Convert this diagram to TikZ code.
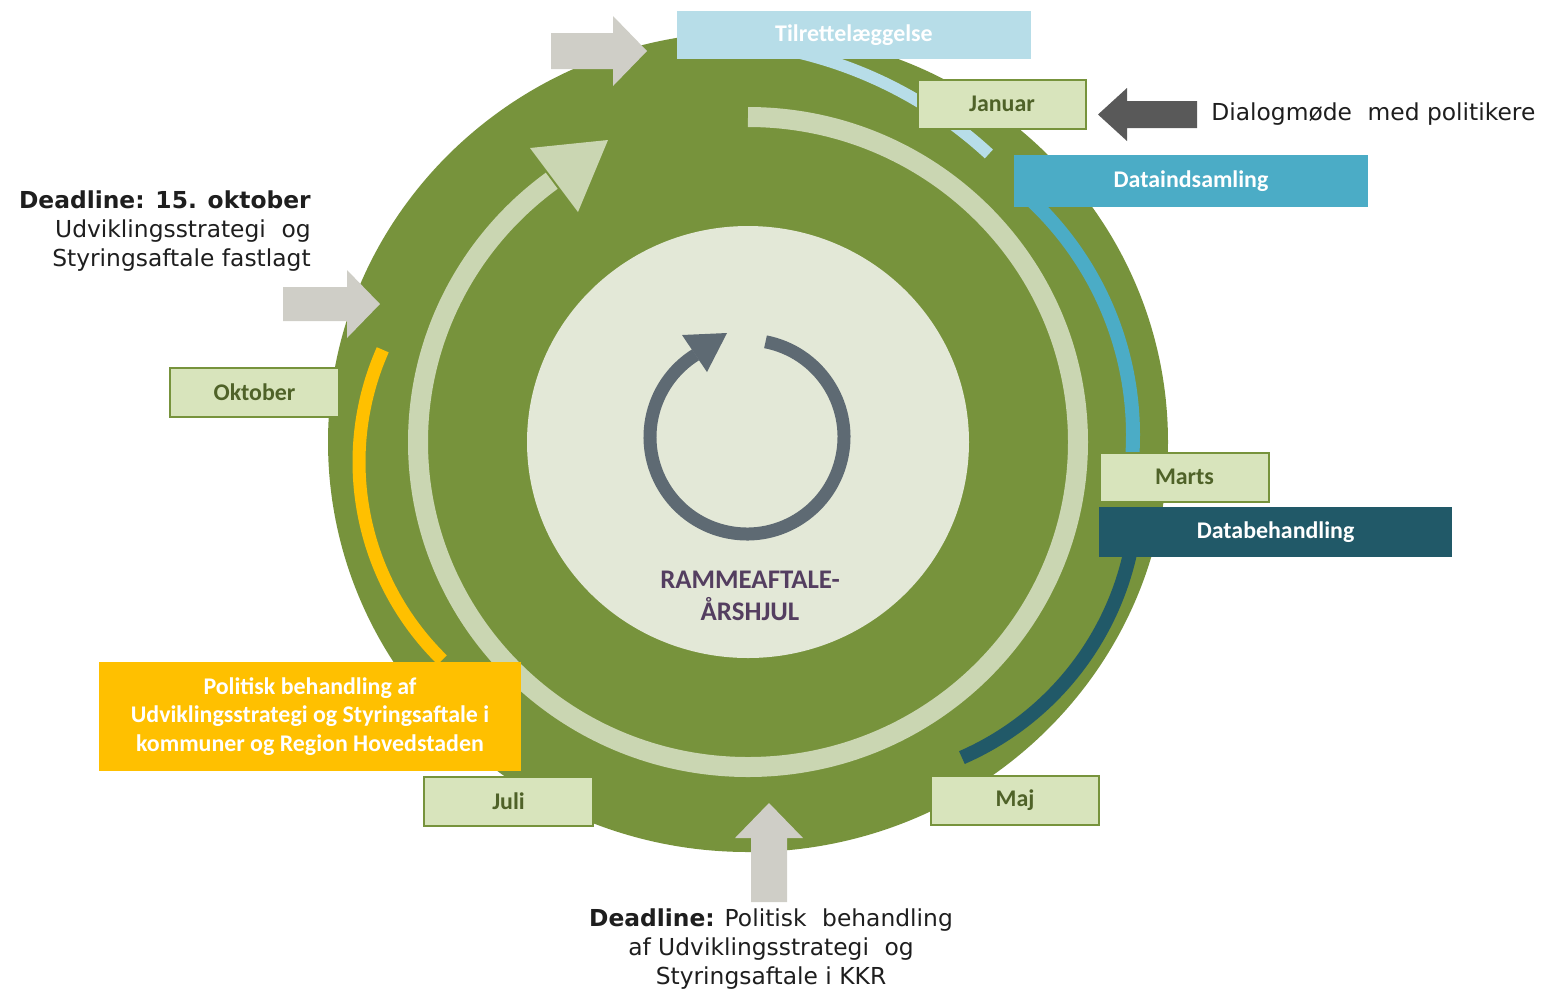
\documentclass[tikz,border=0pt]{standalone}
\usepackage{fontspec}
\setmainfont{DejaVu Sans}
\newfontfamily\lblfont{Carlito}
\definecolor{wheel}{HTML}{77933C}
\definecolor{ringc}{RGB}{202,214,178}
\definecolor{innerc}{RGB}{227,232,215}
\definecolor{iconc}{RGB}{94,106,115}
\definecolor{titlec}{RGB}{84,62,96}
\definecolor{grayarr}{RGB}{207,206,199}
\definecolor{darkarr}{HTML}{595959}
\definecolor{lblue}{HTML}{B7DDE8}
\definecolor{mblue}{HTML}{4BACC6}
\definecolor{dteal}{HTML}{215968}
\definecolor{yel}{HTML}{FFC000}
\definecolor{monthfill}{HTML}{D8E4BC}
\definecolor{monthborder}{HTML}{77933C}
\definecolor{monthtext}{HTML}{4F6228}
\definecolor{bodytext}{HTML}{1E1E1E}
\newcommand{\wsp}{\hspace{0.35em}}
\tikzset{
  monthbox/.style={draw=monthborder, line width=0.04cm, fill=monthfill,
    minimum width=3.38cm, minimum height=0.98cm, inner sep=0pt,
    text=monthtext, font=\lblfont\bfseries\fontsize{13.6}{16}\selectfont},
  phasebox/.style={minimum width=7.08cm, inner sep=0pt, text=white,
    font=\lblfont\bfseries\fontsize{13.6}{16}\selectfont},
  bodytxt/.style={inner sep=0pt, text=bodytext, font=\fontsize{13.3}{16.7}\selectfont},
  arcline/.style={line cap=butt},
}
\begin{document}
\begin{tikzpicture}[x=0.02cm,y=0.02cm]
\useasboundingbox (0,0) rectangle (1549,-992);
% wheel
\fill[wheel] (748,-442) ellipse [x radius=420, y radius=410];
% ring with arrow
\draw[ringc, line width=0.4cm, arcline] (748,-442) ++(90:330 and 325)
  arc[start angle=90, end angle=-233.5, x radius=330, y radius=325];
\fill[ringc] (608,-140) -- (530,-148) -- (578,-212) -- cycle;
% inner disc
\fill[innerc] (748,-442) ellipse [x radius=221, y radius=216];
% cycle icon
\draw[iconc, line width=0.26cm, arcline] (747,-437) ++(79:97)
  arc[start angle=79, end angle=-238, radius=97];
\fill[iconc] (727,-333) -- (682,-335) -- (707,-372) -- cycle;
\node[inner sep=0pt, text=titlec, align=center,
  font=\lblfont\bfseries\fontsize{15.3}{18.2}\selectfont] (title) at (750,-596)
  {RAMMEAFTALE-\\ÅRSHJUL};
% phase arcs
\draw[lblue, line width=0.24cm, arcline] (700,-467) ++(88:426)
  arc[start angle=88, end angle=47.3, radius=426];
\draw[mblue, line width=0.28cm, arcline] (811,-435) ++(49:322)
  arc[start angle=49, end angle=-4, radius=322];
\draw[dteal, line width=0.28cm, arcline] (845,-490) ++(-8:292)
  arc[start angle=-8, end angle=-66.4, radius=292];
\draw[yel, line width=0.26cm, arcline] (636,-462) ++(156.1:277)
  arc[start angle=156.1, end angle=225.6, radius=277];
% phase boxes
\node[phasebox, fill=lblue, minimum height=0.96cm] (tilr) at (854,-35) {Tilrettelæggelse};
\node[phasebox, fill=mblue, minimum height=1.04cm] (data) at (1191,-181) {Dataindsamling};
\node[phasebox, fill=dteal, minimum height=1.0cm] (datab) at (1275.5,-532) {Databehandling};
\node[phasebox, fill=yel, minimum width=8.44cm, minimum height=2.18cm, align=center,
  font=\lblfont\bfseries\fontsize{13.6}{16.4}\selectfont] (polit) at (310,-716.5)
  {Politisk behandling af\\Udviklingsstrategi og Styringsaftale i\\kommuner og Region Hovedstaden};
% month boxes
\node[monthbox] (jan) at (1002,-104) {Januar};
\node[monthbox] (mar) at (1184.5,-477) {Marts};
\node[monthbox] (maj) at (1015,-800.5) {Maj};
\node[monthbox] (jul) at (508.5,-801) {Juli};
\node[monthbox] (okt) at (254.5,-392.5) {Oktober};
% block arrows
\fill[grayarr] (551,-33) -- (613,-33) -- (613,-16) -- (647,-51) -- (613,-86)
  -- (613,-69) -- (551,-69) -- cycle;
\fill[grayarr] (283,-287) -- (347,-287) -- (347,-270) -- (380,-304) -- (347,-338)
  -- (347,-321) -- (283,-321) -- cycle;
\fill[grayarr] (751,-902) -- (751,-838) -- (735,-838) -- (769,-803) -- (803,-838)
  -- (787,-838) -- (787,-902) -- cycle;
\fill[darkarr] (1197,-101) -- (1127,-101) -- (1127,-88) -- (1098,-114.5) -- (1127,-141)
  -- (1127,-128) -- (1197,-128) -- cycle;
% texts
\node[bodytxt, anchor=west] (dialog) at (1211,-114) {Dialogmøde\wsp{} med politikere};
\node[bodytxt, anchor=east, align=right] (dl1) at (311,-231)
  {\textbf{Deadline: 15. oktober}\\Udviklingsstrategi\wsp{} og\\Styringsaftale fastlagt};
\node[bodytxt, align=center] (dl2) at (771,-949)
  {\textbf{Deadline:} Politisk\wsp{} behandling\\af Udviklingsstrategi\wsp{} og\\Styringsaftale i KKR};
\end{tikzpicture}
\end{document}
